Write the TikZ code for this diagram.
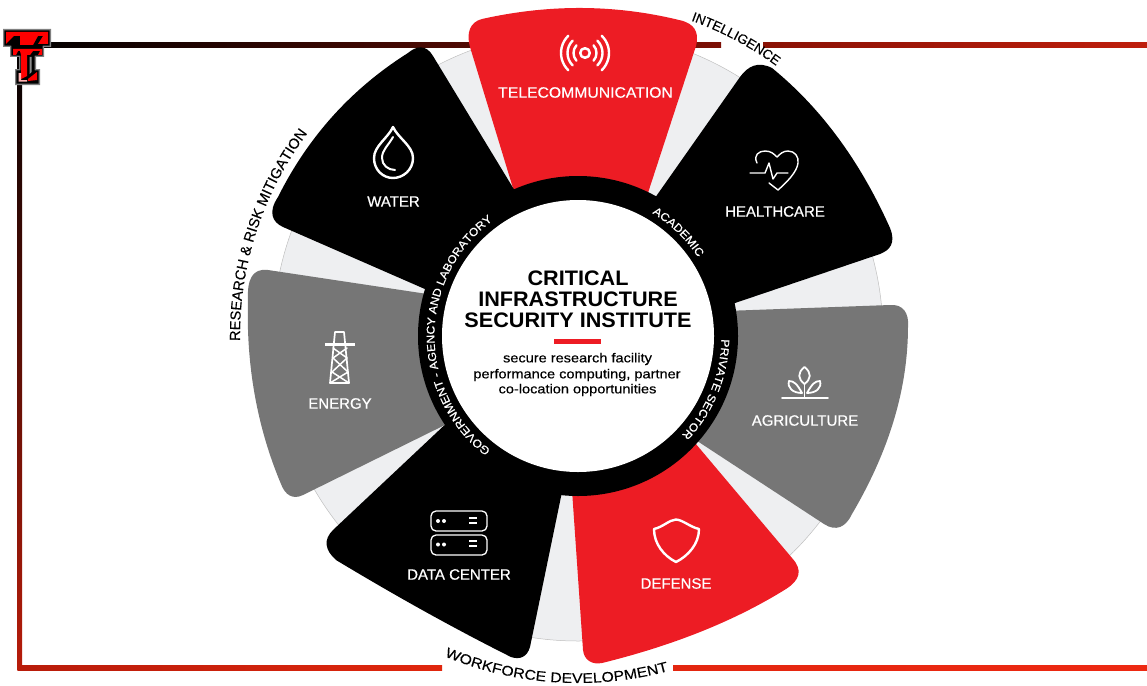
\documentclass[tikz,border=0pt]{standalone}
\usepackage{fontspec}
\usetikzlibrary{decorations.text}
\setmainfont{Liberation Sans}
\newfontfamily\lfont[FakeStretch=1.08,FakeBold=0.6]{Liberation Sans}
\newfontfamily\mfont[FakeBold=0.6]{Liberation Sans}
\newfontfamily\wfont[FakeStretch=1.05,FakeBold=0.6]{Liberation Sans}
\newfontfamily\ofont[FakeBold=0.15]{Liberation Sans}
\newfontfamily\xfont[FakeStretch=1.13,FakeBold=0.15]{Liberation Sans}
\newfontfamily\sfont[FakeStretch=1.12,FakeBold=0.4]{Liberation Sans}
\newfontfamily\tfont[FakeStretch=1.03]{Liberation Sans}
\definecolor{ttred}{HTML}{ED1C24}
\definecolor{wgrey}{HTML}{767676}
\definecolor{discgrey}{HTML}{EEEFF1}
\definecolor{fa}{rgb}{0.49,0.06,0.02}
\definecolor{fb}{rgb}{0.54,0.07,0.02}
\definecolor{fc}{rgb}{0.75,0.12,0.05}
\definecolor{fd}{rgb}{0.72,0.11,0.04}
\definecolor{fe}{rgb}{0.88,0.15,0.05}
\definecolor{ff}{rgb}{0.89,0.15,0.06}
\definecolor{fg}{rgb}{0.93,0.16,0.07}
\newcommand{\ringfont}{\lfont\fontsize{11.3}{13}\selectfont\color{white}}
\newcommand{\intelfont}{\ofont\fontsize{13.4}{14}\selectfont\color{black}}
\newcommand{\resfont}{\ofont\fontsize{14.6}{16}\selectfont\color{black}}
\newcommand{\workfont}{\xfont\fontsize{14}{16}\selectfont\color{black}}
\tikzset{
  lab/.style={font=\mfont\fontsize{15}{17}\selectfont,text=white,inner sep=0pt,anchor=center},
  labw/.style={font=\wfont\fontsize{15}{17}\selectfont,text=white,inner sep=0pt,anchor=center},
  ico/.style={draw=white,line width=#1,line cap=round,line join=round},
  ico/.default=1.6,
  ttl/.style={font=\tfont\bfseries\fontsize{21}{21}\selectfont,inner sep=0pt,anchor=center},
  sub/.style={font=\sfont\fontsize{13}{15}\selectfont,inner sep=0pt,anchor=center},
}
\begin{document}
\begin{tikzpicture}[x=1pt,y=-1pt]
\useasboundingbox (0,0) rectangle (1147,685);
\coordinate (c) at (578,336);
% frame
\shade[left color=black,right color=fa] (20,42.5) rectangle (721,47.5);
\shade[left color=fb,right color=fc] (763,42.5) rectangle (1147,47.5);
\shade[top color=black,bottom color=fd] (17.5,42.5) rectangle (22,670);
\shade[left color=fd,right color=fe] (17.5,665) rectangle (442,670);
\shade[left color=ff,right color=fg] (673,665) rectangle (1147,670);
% disc
\fill[discgrey] (c) circle[radius=305];
\draw[black!25,line width=0.5pt] (c) circle[radius=305];
% wedges
\fill[ttred] (516,198) -- (470,47) .. controls (466,33) and (470,22) .. (482,19)
  .. controls (549,4) and (616,4) .. (683,21) .. controls (692,24) and (700,30) .. (696,46)
  -- (645,202) -- (c) -- cycle;
\fill[black] (650,205) -- (740,77) .. controls (748,66) and (758,61) .. (772,68)
  .. controls (821,108) and (860,161) .. (890,228) .. controls (896,243) and (890,250) .. (880,254)
  -- (735,303) -- (725,307) -- (c) -- cycle;
\fill[wgrey] (725,311) -- (890,305) .. controls (903,304) and (909,313) .. (908,326)
  .. controls (908,389) and (889,451) .. (852,514) .. controls (846,527) and (836,532) .. (824,524)
  -- (685,433) -- (c) -- cycle;
\fill[ttred] (572,490) -- (583,650) .. controls (584,660) and (592,665) .. (602,663)
  .. controls (671,646) and (733,622) .. (786,589) .. controls (800,580) and (803,570) .. (792,558)
  -- (690,437) -- (c) -- cycle;
\fill[black] (563,487) -- (530,647) .. controls (527,657) and (520,660) .. (511,657)
  .. controls (463,633) and (404,601) .. (336,560) .. controls (325,550) and (323,540) .. (333,530)
  -- (451,419) -- (c) -- cycle;
\fill[wgrey] (455,420) -- (303,495) .. controls (293,500) and (285,495) .. (281,484)
  .. controls (257,427) and (246,365) .. (248,300) .. controls (247,280) and (252,268) .. (268,270)
  -- (434,295) -- (c) -- cycle;
\fill[black] (434,293) -- (283,227) .. controls (272,222) and (268,212) .. (278,197)
  .. controls (308,137) and (351,89) .. (408,53) .. controls (416,46) and (426,44) .. (433,56)
  -- (518,196) -- (c) -- cycle;
% ring
\fill[black] (c) circle[radius=160];
\fill[white] (c) circle[radius=136];
% ring text
\path[decorate,decoration={text along path,text align=center,
  text={|\ringfont|ACADEMIC}}]
  (c) ++(-76:143.5) arc[start angle=-76,end angle=-16,radius=143.5];
\path[decorate,decoration={text along path,text align=center,
  text={|\ringfont|PRIVATE SECTOR}}]
  (c) ++(-17:143.5) arc[start angle=-17,end angle=62,radius=143.5];
\path[decorate,decoration={text along path,text align=center,
  text={|\ringfont|GOVERNMENT - AGENCY AND LABORATORY}}]
  (c) ++(115:143.5) arc[start angle=115,end angle=246,radius=143.5];
% outer text
\path[decorate,decoration={text along path,text align=center,
  text={|\intelfont|INTELLIGENCE}}]
  (c) ++(-80:335) arc[start angle=-80,end angle=-44,radius=335];
\path[decorate,decoration={text along path,text align=center,
  text={|\resfont|RESEARCH {\&} RISK MITIGATION}}]
  (c) ++(169:338) arc[start angle=169,end angle=227,radius=338];
\path[decorate,decoration={text along path,text align=center,
  text={|\workfont|WORKFORCE DEVELOPMENT}}]
  (c) ++(118:347) arc[start angle=118,end angle=69.5,radius=347];
% centre text
\node[ttl] (t1) at (578,278) {CRITICAL};
\node[ttl] (t2) at (578,299) {INFRASTRUCTURE};
\node[ttl] (t3) at (578,320) {SECURITY INSTITUTE};
\fill[ttred] (554,339) rectangle (601,343.5);
\node[sub] (s1) at (577.5,359) {secure research facility};
\node[sub] (s2) at (577,375) {performance computing, partner};
\node[sub] (s3) at (577.5,390) {co-location opportunities};
% labels
\node[labw] (telecom) at (585.5,92.5) {TELECOMMUNICATION};
\node[lab] (water) at (393.5,201.5) {WATER};
\node[lab] (health) at (775,211.5) {HEALTHCARE};
\node[lab] (agri) at (805,420.5) {AGRICULTURE};
\node[lab] (defense) at (676,583.5) {DEFENSE};
\node[lab] (data) at (459,574.5) {DATA CENTER};
\node[lab] (energy) at (340,403.5) {ENERGY};
% telecom icon
\draw[ico=2.5] (585,53) circle[radius=4.8];
\foreach \r/\s in {11.5/42,17.5/45,24/46}{
  \draw[ico=2.4] (585,53) ++(-\s:\r) arc[start angle=-\s,end angle=\s,radius=\r];
  \draw[ico=2.4] (585,53) ++(180-\s:\r) arc[start angle=180-\s,end angle=180+\s,radius=\r];
}
% water icon
\draw[ico=2.4] (393,127) .. controls (398,138) and (413,146) .. (413,158)
  .. controls (413,170) and (403,178) .. (393,178)
  .. controls (383,178) and (374,170) .. (374,158)
  .. controls (374,146) and (388,138) .. (393,127) -- cycle;
\draw[ico=2] (393,137) .. controls (388,146) and (382,150) .. (382,158)
  .. controls (382,165) and (388,170) .. (395,170);
% heart icon
\draw[ico=1.4] (757,163) .. controls (753,155) and (759,151) .. (765,151)
  .. controls (771,151) and (774,154) .. (777,157)
  .. controls (780,154) and (783,151) .. (788,151)
  .. controls (795,151) and (799,157) .. (798,163)
  .. controls (797,172) and (787,182) .. (778,190) -- (769,183);
\draw[ico=1.4] (750,173) -- (765,173) -- (769,163) -- (773,179) -- (777,173) -- (788,173);
% tower icon
\draw[ico=1.7] (330,383) -- (335,332) -- (344,332) -- (349,383) -- cycle;
\draw[ico=3,line cap=butt] (325,344) -- (355,344);
\draw[ico=1.5] (333,348) -- (347,358) -- (332,372) -- (349,383);
\draw[ico=1.5] (347,348) -- (333,358) -- (348,372) -- (330,383);
% plant icon
\draw[ico=1.8] (782,398) -- (828,398);
\draw[ico=1.8] (804.5,398) -- (804.5,384);
\draw[ico=1.8] (804.5,367) .. controls (812,373) and (811,379) .. (804.5,384)
  .. controls (798,379) and (797,373) .. (804.5,367) -- cycle;
\draw[ico=1.8] (802,393) .. controls (797,384) and (794,381) .. (789,381)
  .. controls (787,388) and (793,393) .. (802,393) -- cycle;
\draw[ico=1.8] (807,393) .. controls (812,384) and (815,381) .. (820,381)
  .. controls (822,388) and (816,393) .. (807,393) -- cycle;
% shield icon
\draw[ico=2.4] (676,519.5) .. controls (669,520) and (663,527) .. (654,529)
  .. controls (654,544) and (664,556) .. (676,562)
  .. controls (688,556) and (699,544) .. (699,529)
  .. controls (690,527) and (683,520) .. (676,519.5) -- cycle;
% server icon
\draw[ico=1.3,rounded corners=5pt] (431,511) rectangle (487,531);
\draw[ico=1.3,rounded corners=5pt] (431,535) rectangle (487,555);
\foreach \y in {521,544.5}{
  \fill[white] (438,\y) circle[radius=2];
  \fill[white] (444,\y) circle[radius=2];
}
\foreach \y in {518,523,541,546}{
  \draw[ico=1.9,line cap=butt] (469,\y) -- (477,\y);
}
% logo
\fill[black!50] (3,29) -- (51,29) -- (51,47) -- (44,47) -- (44,57) -- (36,57) -- (36,69) -- (40,69) -- (40,85) -- (15,85) -- (15,69) -- (19,69) -- (19,57) -- (10,57) -- (10,47) -- (3,47) -- cycle;
\fill[black] (4.3,30.3) -- (49.7,30.3) -- (49.7,45.7) -- (42.7,45.7) -- (42.7,55.7) -- (34.7,55.7) -- (34.7,70.3) -- (38.7,70.3) -- (38.7,83.7) -- (16.3,83.7) -- (16.3,70.3) -- (20.3,70.3) -- (20.3,55.7) -- (11.3,55.7) -- (11.3,45.7) -- (4.3,45.7) -- cycle;
\fill[red] (6,32) -- (48,32) -- (48,36) -- (14,36) -- (6,44) -- cycle;
\fill[red] (20,36) -- (38,36) -- (33,45) -- (20,45) -- cycle;
\fill[red] (48,36) -- (48,44) -- (38,44) -- (43,36) -- cycle;
\fill[red] (13,49) -- (42,49) -- (42,55) -- (38,55) -- (40,51) -- (18,51) -- (16,55) -- (13,55) -- cycle;
\fill[red] (20,51) -- (33,51) -- (30,55) -- (27,55) -- (27,76) -- (21,79) -- (21,55) -- cycle;
\fill[black!45] (29.5,57) -- (31.5,57) -- (31.5,72) -- (29.5,74) -- cycle;
\fill[red!30] (20,73) -- (21,73) -- (21,80) -- (27,80) -- (27,81.5) -- (18.5,81.5) -- (18.5,73) -- cycle;
\fill[red] (28,79) -- (37,72) -- (37,80) -- (28,81) -- cycle;
\end{tikzpicture}
\end{document}
